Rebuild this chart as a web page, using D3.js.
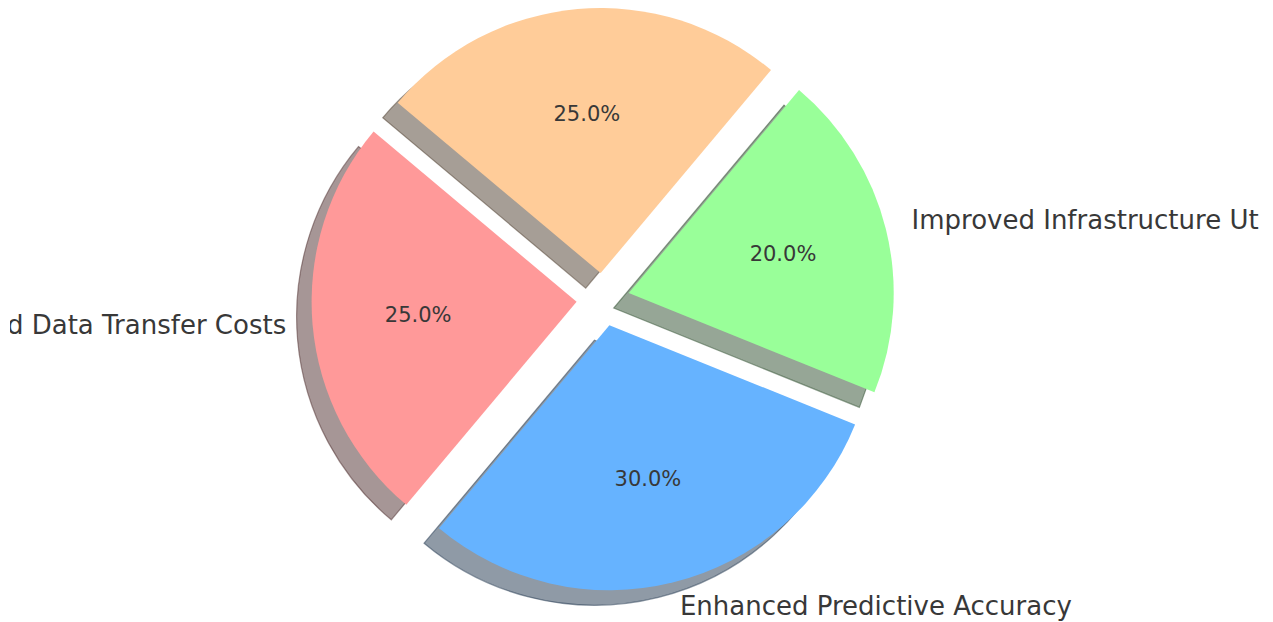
<!DOCTYPE html>
<html>
<head>
<meta charset="utf-8">
<script src="https://cdn.jsdelivr.net/npm/d3@7"></script>
<style>
  body { margin: 0; background: #fff; }
  svg { display: block; }
  text { font-family: "DejaVu Sans", sans-serif; fill: #383838; }
</style>
</head>
<body>
<svg id="chart" width="1273" height="622"></svg>
<script>
// pie data
var categories = ["Reduced Data Transfer Costs", "Enhanced Predictive Accuracy",
                  "Improved Infrastructure Utilization", "Scalable Resource Management"];
var values = [25, 30, 20, 25];
var colors = ["#ff9999", "#66b3ff", "#99ff99", "#ffcc99"];
var explode = [0.1, 0.1, 0.1, 0.1];

var WIDTH = 1273, HEIGHT = 622;
var CX = 603, CY = 299.5;
var RADIUS = 265;
var SHADOW_DX = -15, SHADOW_DY = 15;
var START_ANGLE = 140; // degrees, counter-clockwise from 3 o'clock
// the original figure cut its labels off here
var CLIP_LEFT = 10, CLIP_RIGHT = 1260;

var svg = d3.select("#chart");
svg.append("defs")
    .append("clipPath")
    .attr("id", "figclip")
    .append("rect")
    .attr("x", CLIP_LEFT)
    .attr("y", 0)
    .attr("width", CLIP_RIGHT - CLIP_LEFT)
    .attr("height", HEIGHT);

var g = svg.append("g")
    .attr("clip-path", "url(#figclip)")
    .append("g")
    .attr("transform", "translate(" + CX + "," + CY + ")");

// d3 angles run clockwise from 12 o'clock, so go the other way round
var a0 = (90 - START_ANGLE) * Math.PI / 180;
var pie = d3.pie()
    .sort(null)
    .value(function(d) { return d; })
    .startAngle(a0)
    .endAngle(a0 - 2 * Math.PI);

var total = d3.sum(values);
var slices = pie(values).map(function(d, i) {
    var mid = (d.startAngle + d.endAngle) / 2;
    var off = explode[i] * RADIUS;
    d.i = i;
    d.mid = mid;
    d.ox = Math.sin(mid) * off;
    d.oy = -Math.cos(mid) * off;
    return d;
});

var arc = d3.arc().innerRadius(0).outerRadius(RADIUS);
var labelArc = d3.arc().innerRadius(RADIUS * 1.1).outerRadius(RADIUS * 1.1);
var pctArc = d3.arc().innerRadius(RADIUS * 0.6).outerRadius(RADIUS * 0.6);

function shade(i) {
    var c = d3.rgb(colors[i]);
    return d3.rgb(c.r * 0.3, c.g * 0.3, c.b * 0.3);
}

// shadows, all under the wedges
g.append("g").selectAll("path")
    .data(slices)
    .enter()
    .append("path")
    .attr("transform", function(d) {
        return "translate(" + (d.ox + SHADOW_DX) + "," + (d.oy + SHADOW_DY) + ")";
    })
    .attr("d", arc)
    .attr("fill", function(d) { return shade(d.i); })
    .attr("fill-opacity", 0.5)
    .attr("stroke", function(d) { return shade(d.i); })
    .attr("stroke-opacity", 0.5)
    .attr("stroke-width", 1.2);

// wedges
g.append("g").selectAll("path")
    .data(slices)
    .enter()
    .append("path")
    .attr("transform", function(d) { return "translate(" + d.ox + "," + d.oy + ")"; })
    .attr("d", arc)
    .attr("fill", function(d) { return colors[d.i]; });

// category labels
g.append("g").selectAll("text")
    .data(slices)
    .enter()
    .append("text")
    .attr("x", function(d) { return d.ox + labelArc.centroid(d)[0]; })
    .attr("y", function(d) { return d.oy + labelArc.centroid(d)[1]; })
    .attr("dy", "0.26em")
    .attr("text-anchor", function(d) { return Math.sin(d.mid) > 0 ? "start" : "end"; })
    .style("font-size", "26px")
    .text(function(d) { return categories[d.i]; });

// percentages
g.append("g").selectAll("text")
    .data(slices)
    .enter()
    .append("text")
    .attr("x", function(d) { return d.ox + pctArc.centroid(d)[0]; })
    .attr("y", function(d) { return d.oy + pctArc.centroid(d)[1]; })
    .attr("dy", "0.3em")
    .attr("text-anchor", "middle")
    .style("font-size", "21px")
    .text(function(d) { return d3.format(".1f")(d.value / total * 100) + "%"; });
</script>
</body>
</html>
